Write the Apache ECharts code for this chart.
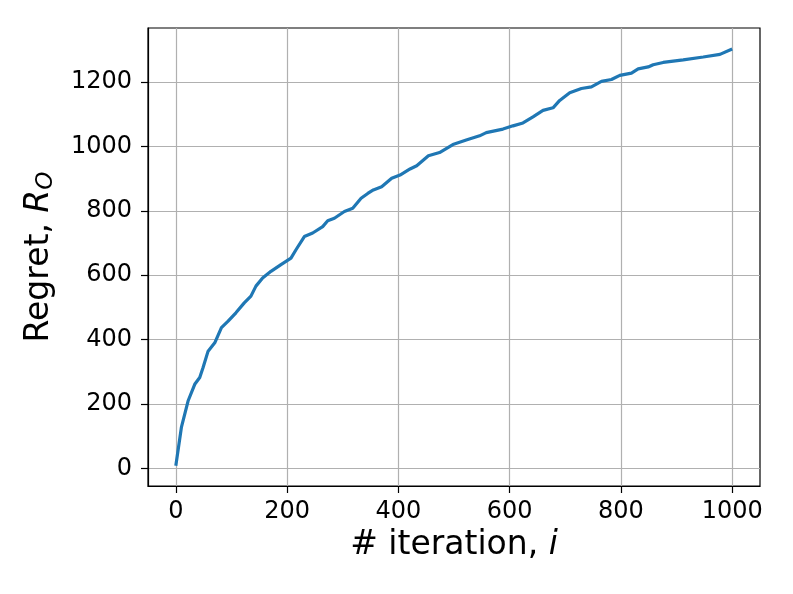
<!DOCTYPE html>
<html>
<head>
<meta charset="utf-8">
<script src="https://cdn.jsdelivr.net/npm/echarts@6/dist/echarts.min.js"></script>
<style>
html,body{margin:0;padding:0;background:#fff;}
#main{width:793px;height:594px;}
</style>
</head>
<body>
<div id="main"></div>
<script>
// iteration i and regret R_O
var iterations=[0,10,22,34,43,49,58,70,82,94,108,123,135,144,156,171,189,207,216,231,246,264,273,285,303,318,333,345,355,370,388,403,421,433,454,474,498,522,546,558,588,606,624,642,660,678,690,708,729,747,765,783,798,819,831,849,858,876,912,948,978,1000];
var regret=[8,127,209,261,282,313,364,390,437,457,483,514,535,566,591,612,633,653,679,720,731,751,769,777,798,808,839,854,865,875,901,911,930,940,971,981,1006,1020,1033,1043,1054,1064,1073,1092,1112,1120,1143,1167,1180,1185,1202,1208,1221,1228,1241,1247,1254,1261,1269,1278,1286,1303];
var xTicks=[0,200,400,600,800,1000];
var yTicks=[0,200,400,600,800,1000,1200];

var font='DejaVu Sans';
var pts=[];
for(var i=0;i<iterations.length;i++){
	pts.push([iterations[i],regret[i]]);
}
function plain(v){ return String(v); }

var myChart=echarts.init(document.getElementById('main'));
var option={
	animation:false,
	backgroundColor:'#fff',
	grid:{
		left:148,right:33,top:28,bottom:108,
		show:true,borderColor:'#000',borderWidth:1.2,
		outerBoundsMode:'none'
	},
	xAxis:{
		type:'value',min:-50,max:1050,
		name:'{n|# iteration, }{i|i}',
		nameLocation:'middle',nameGap:38,
		nameTextStyle:{
			rich:{
				n:{fontFamily:font,fontSize:33,color:'#000'},
				i:{fontFamily:font,fontSize:33,fontStyle:'italic',color:'#000'}
			}
		},
		axisLine:{onZero:false,lineStyle:{color:'#000',width:1.2}},
		axisTick:{customValues:xTicks,length:7,lineStyle:{color:'#000',width:1.2}},
		axisLabel:{customValues:xTicks,formatter:plain,margin:14,fontFamily:font,fontSize:24,color:'#000'},
		splitLine:{show:true,lineStyle:{color:'#b0b0b0',width:1.2}}
	},
	yAxis:{
		type:'value',min:-55,max:1368,
		name:'{n|Regret, }{i|R}{s|O}',
		nameLocation:'middle',nameGap:90,nameRotate:90,
		nameTextStyle:{
			rich:{
				n:{fontFamily:font,fontSize:33,color:'#000'},
				i:{fontFamily:font,fontSize:33,fontStyle:'italic',color:'#000'},
				s:{fontFamily:font,fontSize:23,fontStyle:'italic',color:'#000',padding:[14,0,0,0]}
			}
		},
		axisLine:{show:true,onZero:false,lineStyle:{color:'#000',width:1.2}},
		axisTick:{show:true,customValues:yTicks,length:7,lineStyle:{color:'#000',width:1.2}},
		axisLabel:{customValues:yTicks,formatter:plain,margin:16,fontFamily:font,fontSize:24,color:'#000'},
		splitLine:{show:true,lineStyle:{color:'#b0b0b0',width:1.2}}
	},
	series:[{
		type:'line',
		data:pts,
		showSymbol:false,
		lineStyle:{color:'#1f77b4',width:3.2},
		itemStyle:{color:'#1f77b4'}
	}]
};
myChart.setOption(option);
</script>
</body>
</html>
